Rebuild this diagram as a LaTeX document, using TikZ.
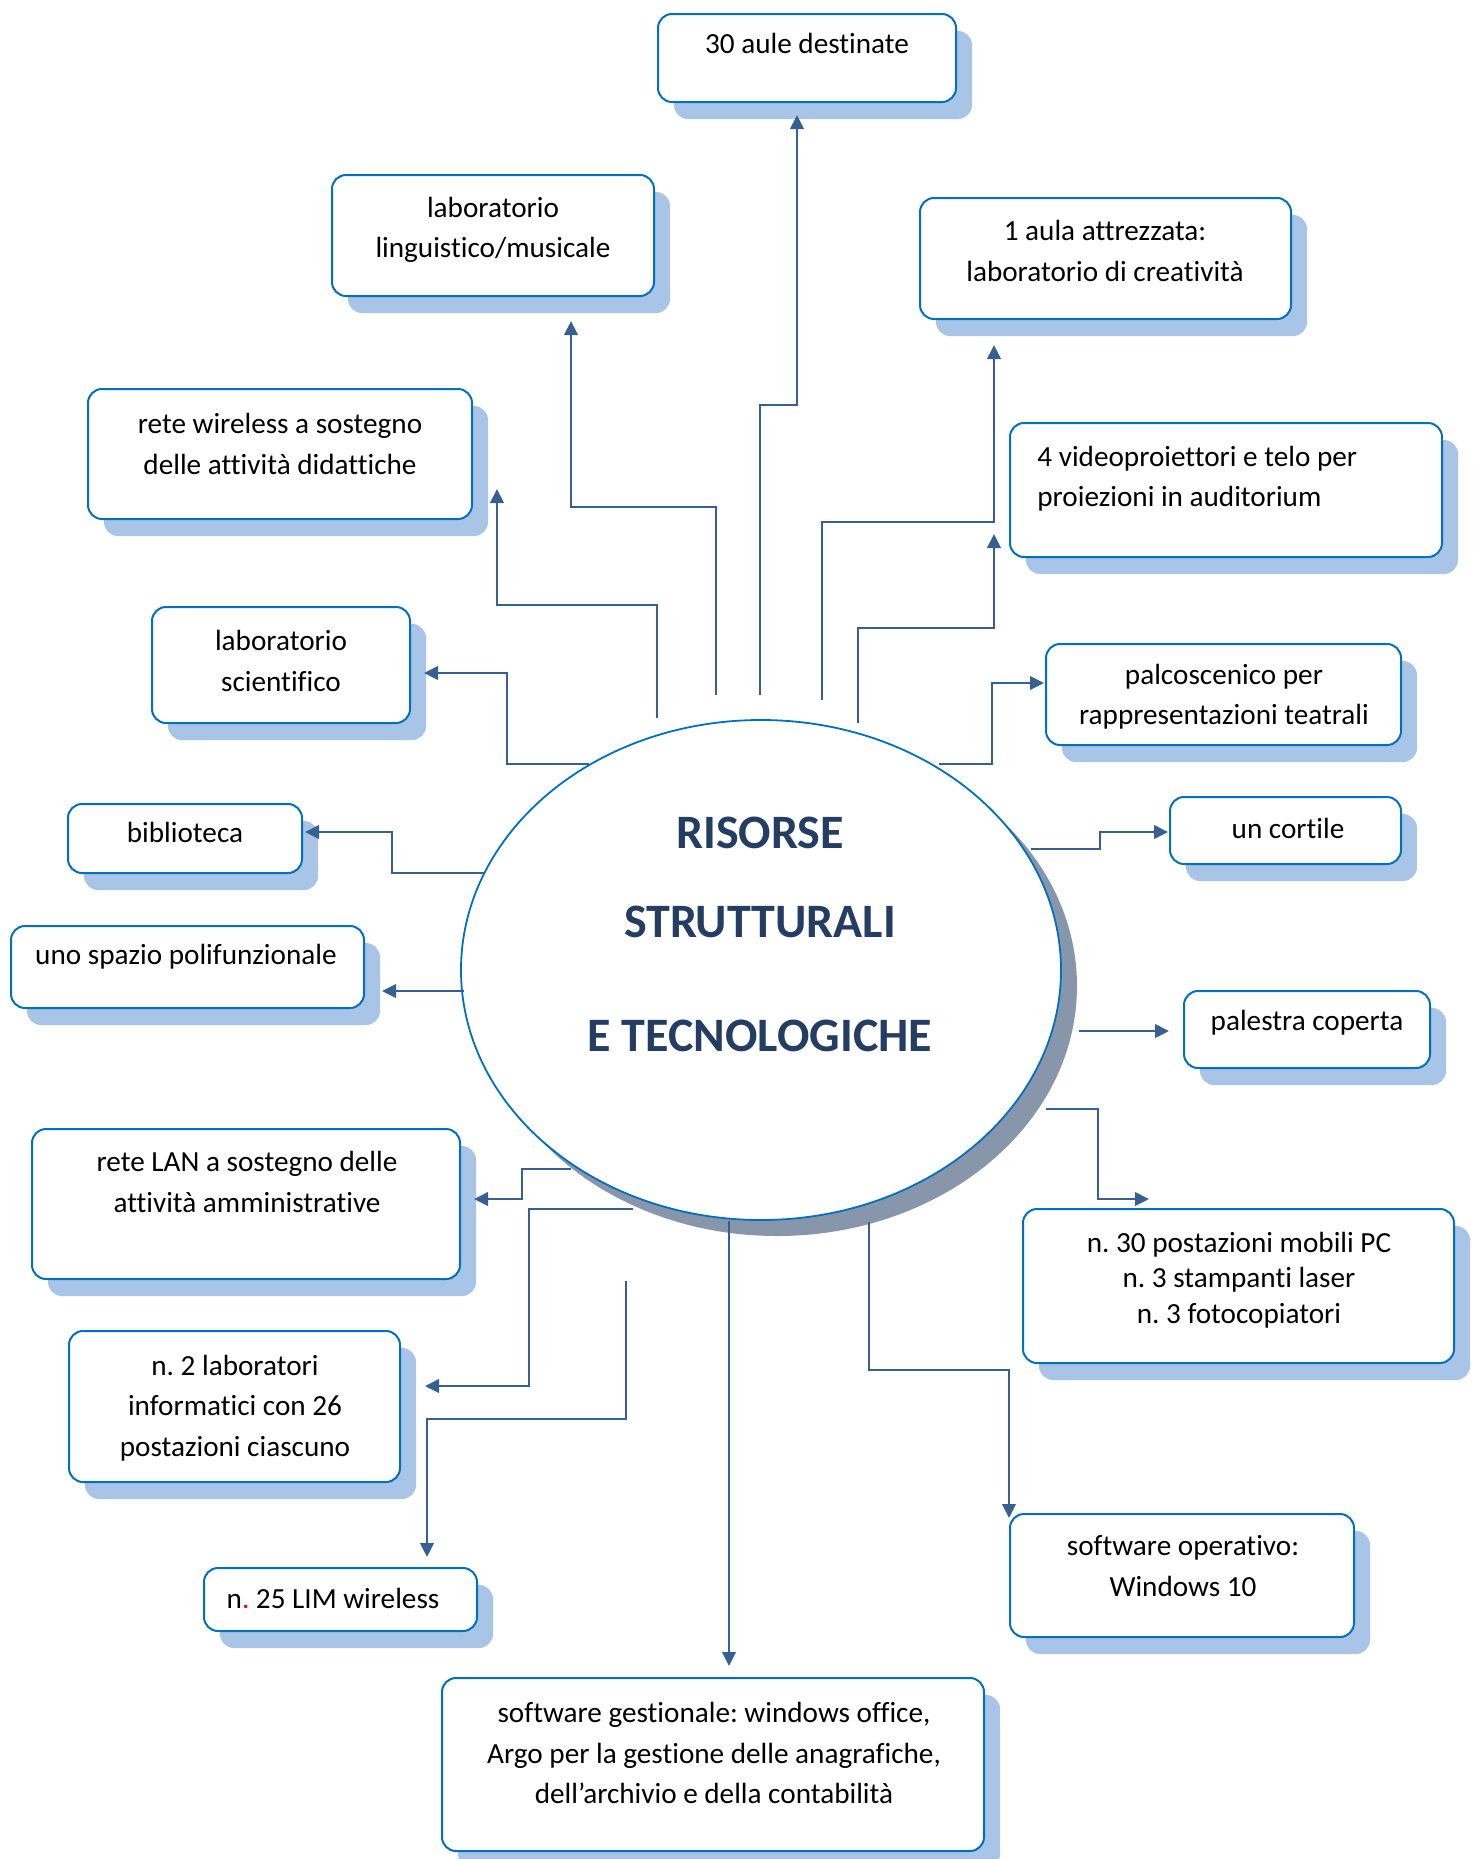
\documentclass[tikz,border=0pt]{standalone}
\usepackage{fontspec}
\setmainfont{Carlito}[Ligatures={NoCommon,NoContextual}]
\usetikzlibrary{arrows.meta,shapes.geometric,shadows,fit}
\definecolor{bordc}{RGB}{0,112,192}
\definecolor{shdc}{RGB}{168,196,230}
\definecolor{ellshd}{RGB}{136,150,172}
\definecolor{arrc}{RGB}{55,96,146}
\definecolor{titc}{RGB}{35,62,98}
\frenchspacing
\begin{document}
\begin{tikzpicture}[x=0.5pt,y=-0.5pt,
  box/.style={draw=bordc, line width=1pt, fill=white, rounded corners=7pt, inner sep=0pt,
    general shadow={fill=shdc, shadow xshift=8pt, shadow yshift=-8.5pt}},
  txt/.style={align=center, font=\fontsize{14.6}{20.2}\selectfont, inner sep=0pt},
  conn/.style={draw=arrc, line width=0.9pt, -{Triangle[length=7pt,width=6.8pt]}},
]
\useasboundingbox (0,0) rectangle (1482,1859);

% boxes
\node[box, fit={(658,14) (956,102)}] (b30) {};
\node[box, fit={(332,175) (654,296)}] (bling) {};
\node[box, fit={(920,198) (1291,319)}] (baula) {};
\node[box, fit={(88,389) (472,519)}] (bwifi) {};
\node[box, fit={(1010,423) (1442,557)}] (bvideo) {};
\node[box, fit={(152,607) (410,723)}] (bsci) {};
\node[box, fit={(1046,644) (1401,745)}] (bpalco) {};
\node[box, fit={(68,804) (302,873)}] (bbib) {};
\node[box, fit={(1170,797) (1401,864)}] (bcort) {};
\node[box, fit={(11,926) (364,1008)}] (bspazio) {};
\node[box, fit={(1184,991) (1430,1068)}] (bpal) {};
\node[box, fit={(32,1129) (460,1279)}] (blan) {};
\node[box, fit={(1023,1209) (1454,1363)}] (bpc) {};
\node[box, fit={(69,1331) (400,1482)}] (blabinf) {};
\node[box, fit={(1010,1514) (1354,1637)}] (bsw) {};
\node[box, fit={(204,1568) (477,1631)}] (blim) {};
\node[box, fit={(442,1678) (984,1851)}] (bgest) {};

% texts
\node[txt] (t30) at (807,43) {30 aule destinate};
\node[txt] (tling) at (493,230) {laboratorio\\linguistico/musicale};
\node[txt] (taula) at (1105,251) {1 aula attrezzata:\\laboratorio di creatività};
\node[txt] (twifi) at (280,444) {rete wireless a sostegno\\delle attività didattiche};
\node[txt, align=left, anchor=west] (tvideo) at (1037,479) {4 videoproiettori e telo per\\proiezioni in auditorium};
\node[txt] (tsci) at (281,661) {laboratorio\\scientifico};
\node[txt] (tpalco) at (1224,697) {palcoscenico per\\rappresentazioni teatrali};
\node[txt] (tbib) at (185,832) {biblioteca};
\node[txt] (tcort) at (1288,828) {un cortile};
\node[txt] (tspazio) at (186,957) {uno spazio polifunzionale};
\node[txt] (tpal) at (1307,1023) {palestra coperta};
\node[txt] (tlan) at (247,1182) {rete LAN a sostegno delle\\attività amministrative};
\node[txt, font=\fontsize{14.6}{17.8}\selectfont] (tpc) at (1239,1280) {n. 30 postazioni mobili PC\\n. 3 stampanti laser\\n. 3 fotocopiatori};
\node[txt, font=\fontsize{14.6}{20.4}\selectfont] (tlabinf) at (235,1408) {n. 2 laboratori\\informatici con 26\\postazioni ciascuno};
\node[txt] (tsw) at (1183,1566) {software operativo:\\Windows 10};
\node[txt] (tlim) at (333,1598) {n\textcolor{red}{.} 25 LIM wireless};
\node[txt] (tgest) at (714,1753) {software gestionale: windows office,\\Argo per la gestione delle anagrafiche,\\dell’archivio e della contabilità};

% central ellipse
\node[ellipse, draw=bordc, line width=0.9pt, fill=white, minimum width=300pt, minimum height=250pt, inner sep=0pt,
  general shadow={fill=ellshd, shadow xshift=8pt, shadow yshift=-8pt}] (ell) at (761,970) {};
\node[font=\fontsize{24}{44.5}\selectfont\bfseries, text=titc, align=center, inner sep=0pt] (title) at (760,934)
  {RISORSE\\STRUTTURALI\\[12.5pt]E TECNOLOGICHE};

% connector end points
\coordinate (s30) at (760,695);   \coordinate (e30) at (797,115);
\coordinate (sling) at (716,695); \coordinate (eling) at (571,321);
\coordinate (saula) at (822,700); \coordinate (eaula) at (994,345);
\coordinate (swifi) at (657,718); \coordinate (ewifi) at (497,489);
\coordinate (svideo) at (858,723); \coordinate (evideo) at (994,534);
\coordinate (ssci) at (589,764);  \coordinate (esci) at (424,673);
\coordinate (spalco) at (939,764); \coordinate (epalco) at (1044,683);
\coordinate (sbib) at (484,873);  \coordinate (ebib) at (305,832);
\coordinate (scort) at (1031,849); \coordinate (ecort) at (1168,832);
\coordinate (sspazio) at (464,991); \coordinate (espazio) at (382,991);
\coordinate (spal) at (1079,1031); \coordinate (epal) at (1169,1031);
\coordinate (slan) at (571,1169); \coordinate (elan) at (474,1199);
\coordinate (spc) at (1046,1109); \coordinate (epc) at (1149,1199);
\coordinate (slabinf) at (633,1209); \coordinate (elabinf) at (425,1386);
\coordinate (slim) at (626,1281); \coordinate (elim) at (427,1557);
\coordinate (sgest) at (729,1221); \coordinate (egest) at (729,1666);
\coordinate (ssw) at (869,1222); \coordinate (esw) at (1009,1518);

% connectors
\draw[conn] (s30) -- ++(0,-290) -| (e30);
\draw[conn] (sling) -- ++(0,-188) -| (eling);
\draw[conn] (saula) -- ++(0,-178) -| (eaula);
\draw[conn] (swifi) -- ++(0,-113) -| (ewifi);
\draw[conn] (svideo) -- ++(0,-95) -| (evideo);
\draw[conn] (ssci) -- ++(-82,0) |- (esci);
\draw[conn] (spalco) -- ++(53,0) |- (epalco);
\draw[conn] (sbib) -- ++(-92,0) |- (ebib);
\draw[conn] (scort) -- ++(69,0) |- (ecort);
\draw[conn] (sspazio) -- (espazio);
\draw[conn] (spal) -- (epal);
\draw[conn] (slan) -- ++(-49,0) |- (elan);
\draw[conn] (spc) -- ++(52,0) |- (epc);
\draw[conn] (slabinf) -- ++(-104,0) |- (elabinf);
\draw[conn] (slim) -- ++(0,138) -| (elim);
\draw[conn] (sgest) -- (egest);
\draw[conn] (ssw) -- ++(0,148) -| (esw);
\end{tikzpicture}
\end{document}
